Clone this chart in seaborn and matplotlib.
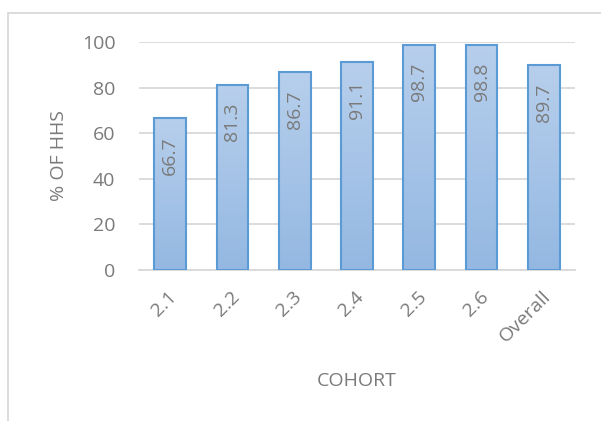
import matplotlib
matplotlib.use("Agg")
import matplotlib.pyplot as plt
import matplotlib.colors as mcolors
import matplotlib.transforms as mtrans
from matplotlib.lines import Line2D
import numpy as np
import pandas as pd
import seaborn as sns

categories = ["2.1", "2.2", "2.3", "2.4", "2.5", "2.6", "Overall"]
values = [66.7, 81.3, 86.7, 91.1, 98.7, 98.8, 89.7]
labels = ["66.7", "81.3", "86.7", "91.1", "98.7", "98.8", "89.7"]
yticks = [0, 20, 40, 60, 80, 100]

sns.set_theme(style="white")
plt.rcParams['font.family'] = ['Open Sans', 'DejaVu Sans']

GRAY = "#7a7a7a"
FS = 14
fig = plt.figure(figsize=(6.01, 4.21), dpi=100)
ax = fig.add_axes([139/601, 1-270/421, (575-139)/601, (270-42)/421])

df = pd.DataFrame({"cohort": categories, "value": values})
sns.barplot(data=df, x="cohort", y="value", ax=ax, width=0.51,
            color="#a5c3e8", edgecolor="#5b9bd5", linewidth=1.5, saturation=1, zorder=3)

ax.set_ylim(0, 100)
ax.set_yticks(yticks)
ax.set_xlim(-0.5, len(categories)-0.5)

# gradient fill
cmap = mcolors.LinearSegmentedColormap.from_list("g", ["#94b8e2", "#b7cfec"])
grad = np.linspace(0, 1, 256).reshape(-1, 1)
for p in ax.patches:
    x0, y0 = p.get_x(), p.get_y()
    w, h = p.get_width(), p.get_height()
    im = ax.imshow(grad, cmap=cmap, origin="lower", aspect="auto",
                   extent=[x0, x0+w, y0, y0+h], zorder=3.5)
    im.set_clip_path(p)
    p.set_facecolor("none")
    p.set_zorder(4)

for p, lab in zip(ax.patches, labels):
    cx = p.get_x() + p.get_width()/2
    ax.annotate(lab, (cx, p.get_height()), xytext=(0, -13), textcoords="offset points",
                rotation=90, ha="center", va="top", color=GRAY, fontsize=FS, zorder=5)

ax.yaxis.grid(True, color="#d9d9d9", linewidth=1.3, zorder=0)
ax.xaxis.grid(False)
for s in ["top", "right", "left"]:
    ax.spines[s].set_visible(False)
ax.spines["bottom"].set_color("#d9d9d9")
ax.spines["bottom"].set_linewidth(1.3)

ax.tick_params(axis="y", length=0, pad=17, labelsize=FS, labelcolor=GRAY)
ax.tick_params(axis="x", length=0, pad=17, labelsize=FS, labelcolor=GRAY)
offset = mtrans.ScaledTranslation(3/72, 0, fig.dpi_scale_trans)
for t in ax.get_xticklabels():
    t.set_rotation(45)
    t.set_ha("right")
    t.set_va("center")
    t.set_rotation_mode("anchor")
    t.set_transform(t.get_transform() + offset)

ax.set_ylabel("% OF HHS", color=GRAY, fontsize=FS, labelpad=10)
ax.set_xlabel("COHORT", color=GRAY, fontsize=FS, labelpad=19)

# chart border (top and left visible)
fig.add_artist(Line2D([8/601, 1.0], [1-13/421, 1-13/421], color="#d9d9d9", linewidth=1.3, transform=fig.transFigure))
fig.add_artist(Line2D([8/601, 8/601], [0, 1-13/421], color="#d9d9d9", linewidth=1.3, transform=fig.transFigure))

fig.savefig("out.png", dpi=100)
